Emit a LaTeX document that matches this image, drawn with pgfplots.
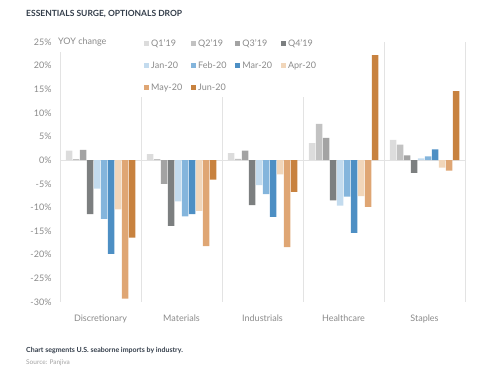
\documentclass[border=0pt]{standalone}
\usepackage{fontspec}
\setmainfont{Lato}
\usepackage{pgfplots}
\pgfplotsset{compat=1.18}
\definecolor{cqa}{HTML}{DCDCDC}
\definecolor{cqb}{HTML}{C2C2C2}
\definecolor{cqc}{HTML}{A3A3A3}
\definecolor{cqd}{HTML}{7C7F80}
\definecolor{cja}{HTML}{C3DBEE}
\definecolor{cfe}{HTML}{84B5DC}
\definecolor{cma}{HTML}{4D8FC4}
\definecolor{cap}{HTML}{F1D6BA}
\definecolor{cmy}{HTML}{DFA674}
\definecolor{cjn}{HTML}{C8823F}
\definecolor{titlec}{HTML}{333D4A}
\definecolor{labc}{HTML}{8A8A8A}
\definecolor{gridc}{HTML}{E3E3E3}
\begin{document}
\begin{tikzpicture}[x=1pt,y=1pt]
\path[use as bounding box] (0,0) rectangle (481,377);
\node[anchor=west, inner sep=0, font=\bfseries\fontsize{8.5}{10}\selectfont, text=titlec] at (26,363) {ESSENTIALS SURGE, OPTIONALS DROP};
\begin{axis}[
  at={(60pt,75pt)}, anchor=south west, scale only axis,
  width=405pt, height=260pt,
  xmin=-0.5, xmax=4.5, ymin=-30, ymax=25,
  ybar=0.5pt, bar width=6.5pt,
  axis line style={draw=none}, tick style={draw=none},
  xtick={0,1,2,3,4},
  xticklabels={Discretionary,Materials,Industrials,Healthcare,Staples},
  ytick={-30,-25,-20,-15,-10,-5,0,5,10,15,20,25},
  yticklabels={-30\%,-25\%,-20\%,-15\%,-10\%,-5\%,0\%,5\%,10\%,15\%,20\%,25\%},
  ticklabel style={font=\fontsize{9}{11}\selectfont, text=labc},
  yticklabel style={xshift=-5pt},
  xticklabel style={yshift=-5pt},
  extra x ticks={-0.5,0.5,1.5,2.5,3.5,4.5},
  extra x tick labels={},
  extra x tick style={grid=major, major grid style={draw=gridc, line width=0.8pt}},
  extra y ticks={0},
  extra y tick labels={},
  extra y tick style={grid=major, major grid style={draw=gridc, line width=0.8pt}},
  legend columns=4,
  legend cell align=left,
  legend image code/.code={\fill[#1] (0pt,-2.5pt) rectangle (5pt,2.5pt);},
  legend style={at={(axis description cs:0.2,1.03)}, anchor=north west,
    draw=none, fill=white, inner sep=3pt, row sep=10pt,
    font=\fontsize{9}{11}\selectfont, text=labc,
    /tikz/every even column/.append style={column sep=7pt}},
]
\addplot[fill=cqa, draw=none] coordinates {(0,2.0) (1,1.3) (2,1.5) (3,3.6) (4,4.3)};
\addplot[fill=cqb, draw=none] coordinates {(0,0.2) (1,0.2) (2,0.3) (3,7.7) (4,3.3)};
\addplot[fill=cqc, draw=none] coordinates {(0,2.2) (1,-5.0) (2,2.0) (3,4.7) (4,1.0)};
\addplot[fill=cqd, draw=none] coordinates {(0,-11.4) (1,-13.9) (2,-9.5) (3,-8.5) (4,-2.7)};
\addplot[fill=cja, draw=none] coordinates {(0,-6.0) (1,-8.7) (2,-5.3) (3,-9.6) (4,0.4)};
\addplot[fill=cfe, draw=none] coordinates {(0,-12.4) (1,-11.9) (2,-7.2) (3,-7.7) (4,0.8)};
\addplot[fill=cma, draw=none] coordinates {(0,-19.8) (1,-11.4) (2,-12.0) (3,-15.4) (4,2.3)};
\addplot[fill=cap, draw=none] coordinates {(0,-10.4) (1,-10.7) (2,-3.0) (3,-7.6) (4,-1.6)};
\addplot[fill=cmy, draw=none] coordinates {(0,-29.3) (1,-18.2) (2,-18.4) (3,-9.9) (4,-2.2)};
\addplot[fill=cjn, draw=none] coordinates {(0,-16.4) (1,-4.1) (2,-6.7) (3,22.2) (4,14.6)};
\legend{Q1'19,Q2'19,Q3'19,Q4'19,Jan-20,Feb-20,Mar-20,Apr-20,May-20,Jun-20}
\end{axis}
\node[anchor=west, fill=white, inner xsep=2pt, minimum height=20pt, font=\fontsize{9}{11}\selectfont, text=labc] at (56,335) {YOY change};
\node[anchor=west, inner sep=0, font=\bfseries\fontsize{7}{8}\selectfont, text=titlec] at (26,26) {Chart segments U.S. seaborne imports by industry.};
\node[anchor=west, inner sep=0, font=\fontsize{6.5}{8}\selectfont, text=labc!80] at (26,14) {Source: Panjiva};
\end{tikzpicture}
\end{document}
